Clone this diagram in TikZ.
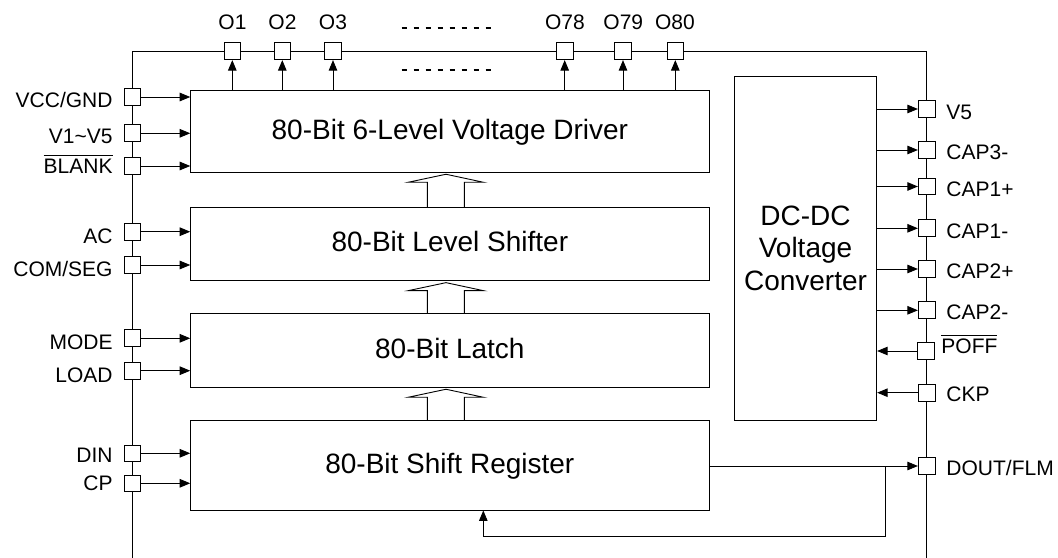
\documentclass[tikz,border=0pt]{standalone}
\usepackage{fontspec}
\setmainfont{Liberation Sans}
\usetikzlibrary{arrows.meta,calc}
\newcommand\ovl[1]{\leavevmode\vbox{\hrule height 0.9bp\kern 3.2bp\hbox{#1}}}
\newcommand\hollowarr[2]{%
  \draw ([xshift=-22.55bp]#2.north) -- ([xshift=-22.55bp,yshift=-9.5bp]#1.south)
     -- ([xshift=-41.55bp,yshift=-9.5bp]#1.south) -- ([xshift=-3.85bp,yshift=-1.5bp]#1.south)
     -- ([xshift=33.45bp,yshift=-9.5bp]#1.south) -- ([xshift=14.45bp,yshift=-9.5bp]#1.south)
     -- ([xshift=14.45bp]#2.north);}
\begin{document}
\begin{tikzpicture}[x=1bp,y=-1bp, line width=0.9bp,
  lbl/.style={font=\fontsize{21bp}{25bp}\selectfont, inner sep=0pt},
  blk/.style={draw, minimum width=518.3bp, inner sep=0pt, font=\fontsize{28bp}{32.5bp}\selectfont, text height=20bp, text depth=4bp},
  pad/.style={draw, fill=white, minimum size=16.7bp, inner sep=0pt},
  arr/.style={-{Triangle[length=10.5bp,width=8.5bp]}},
  dashline/.style={line width=1.6bp, dash pattern=on 5bp off 7bp},
]
\useasboundingbox (0,0) rectangle (1058,558);
% outer frame
\draw (132.3,558) -- (132.3,51.3) -- (926.7,51.3) -- (926.7,558);

% blocks
\node[blk, minimum height=82bp] (drv) at (449.85,131.3) {80-Bit 6-Level Voltage Driver};
\node[blk, minimum height=73.4bp] (shf) at (449.85,244) {80-Bit Level Shifter};
\node[blk, minimum height=73.6bp] (lat) at (449.85,350.5) {80-Bit Latch};
\node[blk, minimum height=89.7bp] (sreg) at (449.85,465.15) {80-Bit Shift Register};
\node[draw, minimum width=142.4bp, minimum height=344bp, inner sep=0pt, align=center,
      font=\fontsize{28bp}{32.5bp}\selectfont] (dcdc) at (805.5,248) {DC-DC\\Voltage\\Converter};

% hollow bus arrows
\hollowarr{drv}{shf}
\hollowarr{shf}{lat}
\hollowarr{lat}{sreg}

% left pads
\node[pad] (vcc) at (132.3,97) {};
\node[pad] (v15) at (132.3,133.3) {};
\node[pad] (blank) at (132.3,166) {};
\node[pad] (ac) at (132.3,231.7) {};
\node[pad] (cs) at (132.3,265) {};
\node[pad] (mode) at (132.3,338.3) {};
\node[pad] (load) at (132.3,370.7) {};
\node[pad] (din) at (132.3,453.3) {};
\node[pad] (cp) at (132.3,483.3) {};

\draw[arr] (vcc.east) -- (vcc.east -| drv.west);
\draw[arr] (v15.east) -- (v15.east -| drv.west);
\draw[arr] (blank.east) -- (blank.east -| drv.west);
\draw[arr] (ac.east) -- (ac.east -| shf.west);
\draw[arr] (cs.east) -- (cs.east -| shf.west);
\draw[arr] (mode.east) -- (mode.east -| lat.west);
\draw[arr] (load.east) -- (load.east -| lat.west);
\draw[arr] (din.east) -- (din.east -| sreg.west);
\draw[arr] (cp.east) -- (cp.east -| sreg.west);

\node[lbl, anchor=base east] (lvcc) at (113,107.7) {VCC/GND};
\node[lbl, anchor=base east] (lv15) at (113,143.3) {V1\textasciitilde V5};
\node[lbl, anchor=base east] (lblank) at (113,173.7) {\ovl{BLANK}};
\node[lbl, anchor=base east] (lac) at (113,243.3) {AC};
\node[lbl, anchor=base east] (lcs) at (113,276.7) {COM/SEG};
\node[lbl, anchor=base east] (lmode) at (113,349.2) {MODE};
\node[lbl, anchor=base east] (lload) at (113,383) {LOAD};
\node[lbl, anchor=base east] (ldin) at (113,462) {DIN};
\node[lbl, anchor=base east] (lcp) at (113,490) {CP};

% top pads
\node[pad] (o1) at (232.3,51.3) {};
\node[pad] (o2) at (282.3,51.3) {};
\node[pad] (o3) at (333,51.3) {};
\node[pad] (o78) at (564.7,51.3) {};
\node[pad] (o79) at (623,51.3) {};
\node[pad] (o80) at (675.3,51.3) {};
\foreach \p in {o1,o2,o3,o78,o79,o80}
  \draw[arr] (\p |- drv.north) -- (\p.south);
\node[lbl, anchor=base] (lo1) at (232.5,30) {O1};
\node[lbl, anchor=base] (lo2) at (282.5,30) {O2};
\node[lbl, anchor=base] (lo3) at (333,30) {O3};
\node[lbl, anchor=base] (lo78) at (565,30) {O78};
\node[lbl, anchor=base] (lo79) at (623.3,30) {O79};
\node[lbl, anchor=base] (lo80) at (675,30) {O80};

% dashed ellipsis lines
\coordinate (da1) at (401.7,28.3); \coordinate (db1) at (490.7,28.3);
\coordinate (da2) at (401.7,70);   \coordinate (db2) at (490.7,70);
\draw[dashline] (da1) -- (db1);
\draw[dashline] (da2) -- (db2);

% right pads
\node[pad] (v5) at (926.7,109) {};
\node[pad] (cap3m) at (926.7,150) {};
\node[pad] (cap1p) at (926.7,186.5) {};
\node[pad] (cap1m) at (926.7,228.3) {};
\node[pad] (cap2p) at (926.7,269) {};
\node[pad] (cap2m) at (926.7,310.3) {};
\node[pad] (poff) at (925.7,351) {};
\node[pad] (ckp) at (926.7,392.7) {};
\node[pad] (dout) at (926.7,466) {};

\foreach \p in {v5,cap3m,cap1p,cap1m,cap2p,cap2m}
  \draw[arr] (\p.west -| dcdc.east) -- (\p.west);
\draw[arr] (poff.west) -- (poff.west -| dcdc.east);
\draw[arr] (ckp.west) -- (ckp.west -| dcdc.east);

\node[lbl, anchor=base west] (lv5) at (946,119.3) {V5};
\node[lbl, anchor=base west] (lcap3m) at (946,160) {CAP3-};
\node[lbl, anchor=base west] (lcap1p) at (946,196.7) {CAP1+};
\node[lbl, anchor=base west] (lcap1m) at (946,238.3) {CAP1-};
\node[lbl, anchor=base west] (lcap2p) at (946,279) {CAP2+};
\node[lbl, anchor=base west] (lcap2m) at (946,320) {CAP2-};
\node[lbl, anchor=base west] (lpoff) at (941,353.5) {\ovl{POFF}};
\node[lbl, anchor=base west] (lckp) at (946,401.7) {CKP};
\node[lbl, anchor=base west] (ldout) at (946,475.7) {DOUT/FLM};

% shift register output and feedback
\draw[arr] (dout.west -| sreg.east) -- (dout.west);
\coordinate (br) at (885,466);
\coordinate (fb) at (483.3,536);
\draw[arr] (br) |- (fb) -- (fb |- sreg.south);
\end{tikzpicture}
\end{document}
